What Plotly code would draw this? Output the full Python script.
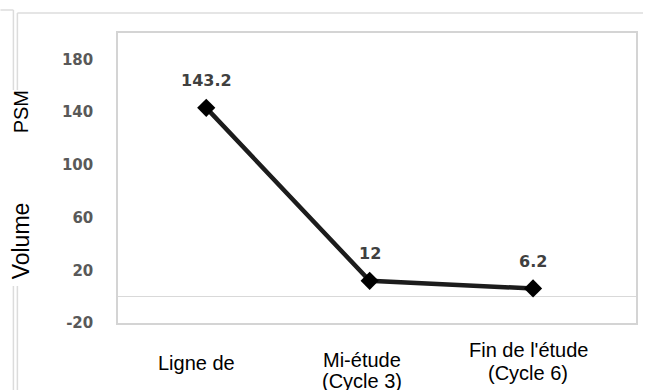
import plotly.graph_objects as go

# Data
categories = ["Ligne de base", "Mi-étude (Cycle 3)", "Fin de l'étude (Cycle 6)"]
cat_lines = [["Ligne de"], ["Mi-étude", "(Cycle 3)"], ["Fin de l'étude", "(Cycle 6)"]]
volume = [143.2, 12, 6.2]
value_labels = ["143.2", "12", "6.2"]
y_ticks = [-20, 20, 60, 100, 140, 180]
y_tick_text = ["-20", "20", "60", "100", "140", "180"]

W, H = 645, 390
L, R, T, B = 118, 7, 33, 67
PW, PH = W - L - R, H - T - B


def px_x(x):
    return (x - L) / PW


def px_y(y):
    return (H - B - y) / PH


fig = go.Figure()

fig.add_trace(go.Scatter(
    x=[0, 1, 2], y=volume,
    mode="lines+markers",
    line=dict(color="#1c1c1c", width=4.5),
    marker=dict(symbol="diamond", size=14, color="#000000"),
    hoverinfo="skip", showlegend=False,
))

annotations = []

# value labels above the points
for i, (v, t) in enumerate(zip(volume, value_labels)):
    annotations.append(dict(
        x=i, y=v, xref="x", yref="y", text=t, showarrow=False,
        yshift=27, font=dict(family="DejaVu Sans", size=16, color="#404040", weight="bold"),
    ))

# category labels under the axis (one annotation per line)
line_pos = [[(197, 363)], [(363, 360), (363, 381)], [(530, 350), (530, 373)]]
for lines, pos in zip(cat_lines, line_pos):
    for txt, (cx, cy) in zip(lines, pos):
        annotations.append(dict(
            x=px_x(cx), y=px_y(cy), xref="paper", yref="paper", text=txt,
            showarrow=False, xanchor="center", yanchor="middle",
            font=dict(family="Liberation Sans, Arial", size=20, color="#000000"),
        ))

# y-axis title
for txt, cy, fs in [("PSM", 112, 20), ("Volume", 241, 23)]:
    annotations.append(dict(
        x=px_x(21), y=px_y(cy), xref="paper", yref="paper", text=txt,
        showarrow=False, textangle=-90, xanchor="center", yanchor="middle",
        font=dict(family="Liberation Sans, Arial", size=fs, color="#000000"),
    ))

frame = "#dcdcdc"
shapes = [
    # outer frames
    dict(type="line", xref="paper", yref="paper", x0=px_x(0), x1=px_x(13), y0=px_y(10), y1=px_y(10),
         line=dict(color=frame, width=1.5)),
    dict(type="line", xref="paper", yref="paper", x0=px_x(13), x1=px_x(13), y0=px_y(10), y1=px_y(390),
         line=dict(color=frame, width=1.5)),
    dict(type="line", xref="paper", yref="paper", x0=px_x(17), x1=px_x(645), y0=px_y(13), y1=px_y(13),
         line=dict(color=frame, width=1.5)),
    dict(type="line", xref="paper", yref="paper", x0=px_x(17), x1=px_x(17), y0=px_y(13), y1=px_y(390),
         line=dict(color=frame, width=1.5)),
    # white panel behind the axis title
    dict(type="rect", xref="paper", yref="paper", x0=px_x(5), x1=px_x(61), y0=px_y(90), y1=px_y(286),
         fillcolor="#ffffff", line=dict(width=0), layer="above"),
]

fig.update_layout(
    width=W, height=H,
    margin=dict(l=L, r=R, t=T, b=B),
    paper_bgcolor="#ffffff", plot_bgcolor="#ffffff",
    xaxis=dict(range=[-0.54, 2.63], showticklabels=False, showgrid=False, zeroline=False,
               showline=True, mirror=True, linecolor="#d4d4d4", linewidth=1.5, ticks=""),
    yaxis=dict(range=[-20, 200], tickvals=y_ticks, ticktext=y_tick_text, showgrid=False,
               zeroline=True, zerolinecolor="#d9d9d9", zerolinewidth=1,
               showline=True, mirror=True, linecolor="#d4d4d4", linewidth=1.5, ticks="",
               ticklabelstandoff=20,
               tickfont=dict(family="DejaVu Sans", size=15, color="#595959", weight="bold")),
    annotations=annotations,
    shapes=shapes,
)

fig.write_html("out.html")
